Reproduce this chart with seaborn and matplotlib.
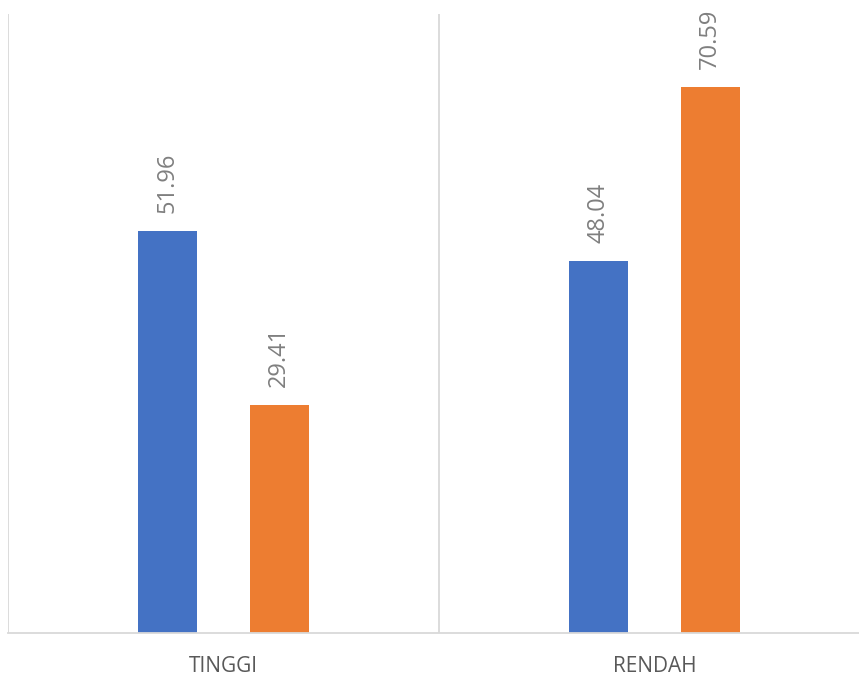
# Diagramme en barres groupées : TINGGI / RENDAH, deux séries

import numpy as np
import pandas as pd
import matplotlib
matplotlib.use("Agg")
import matplotlib.pyplot as plt
import seaborn as sns

# Données
categories = ["TINGGI", "RENDAH"]
series_names = ["Seri 1", "Seri 2"]
seri_1 = [51.96, 48.04]
seri_2 = [29.41, 70.59]

COLOR_BLUE = "#4472C4"
COLOR_ORANGE = "#ED7D31"
COLOR_GRID = "#D9D9D9"

df = pd.DataFrame({
    "kategori": categories * 2,
    "seri": [series_names[0]] * len(categories) + [series_names[1]] * len(categories),
    "nilai": seri_1 + seri_2,
})

sns.set_style("white")
plt.rcParams["font.family"] = ["Open Sans", "DejaVu Sans"]

fig = plt.figure(figsize=(8.59, 6.81), dpi=100)
ax = fig.add_axes([8 / 859, 1 - 632.5 / 681, 862 / 859, 618.5 / 681])

sns.barplot(
    data=df, x="kategori", y="nilai", hue="seri", order=categories,
    palette=[COLOR_BLUE, COLOR_ORANGE], width=0.516, gap=0.47,
    saturation=1, legend=False, linewidth=0, ax=ax,
)

for container in ax.containers:
    ax.bar_label(container, fmt="%.2f", rotation=90, padding=13,
                 fontsize=17, color="#7F7F7F")

# Lignes de séparation des catégories (style Excel)
for xpos in (-0.5, 0.5, 1.5):
    ax.axvline(xpos, color=COLOR_GRID, linewidth=1.3, zorder=0)

ax.set_xlim(-0.5, 1.5)
ax.set_ylim(0, 80)
ax.set_yticks([])
ax.set_xlabel("")
ax.set_ylabel("")
for side in ("top", "right", "left"):
    ax.spines[side].set_visible(False)
ax.spines["bottom"].set_color(COLOR_GRID)
ax.spines["bottom"].set_linewidth(1.3)
ax.tick_params(axis="x", length=0, pad=17, labelsize=15, labelcolor="#595959")

fig.savefig("out.png", dpi=100)
